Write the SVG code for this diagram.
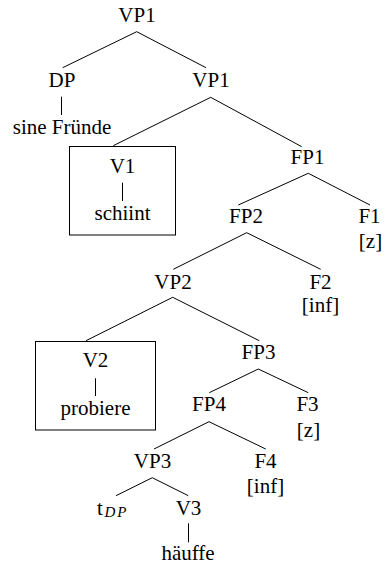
<svg xmlns="http://www.w3.org/2000/svg" width="386" height="566" viewBox="0 0 386 566">
<style>
.t text{font-size:21px;fill:#000;text-anchor:middle}
.t .sub{font-size:15px;font-style:italic;letter-spacing:2px;text-anchor:start}
.t .l{text-anchor:start}
.c line,.box{stroke:#000;stroke-width:1;fill:none}
</style>
<g id="connectors" class="c">
<line x1="136.7" y1="31.7" x2="62.7" y2="67.7"/>
<line x1="136.7" y1="31.7" x2="206" y2="67.7"/>
<line x1="61.5" y1="96.7" x2="61.5" y2="115"/>
<line x1="210.7" y1="97.3" x2="113.3" y2="145.7"/>
<line x1="210.7" y1="97.3" x2="301.7" y2="146.7"/>
<line x1="122.5" y1="182.7" x2="122.5" y2="201"/>
<line x1="308.3" y1="173.3" x2="238.3" y2="205"/>
<line x1="308.3" y1="173.3" x2="370" y2="205"/>
<line x1="246.7" y1="232.7" x2="173.3" y2="269.3"/>
<line x1="246.7" y1="232.7" x2="320.7" y2="269.3"/>
<line x1="172.7" y1="297.3" x2="86" y2="340.7"/>
<line x1="172.7" y1="297.3" x2="259.3" y2="340.7"/>
<line x1="95.5" y1="378.3" x2="95.5" y2="396"/>
<line x1="258.3" y1="369" x2="209.3" y2="392.7"/>
<line x1="258.3" y1="369" x2="308.3" y2="392.7"/>
<line x1="209" y1="421.7" x2="154" y2="449"/>
<line x1="209" y1="421.7" x2="265.7" y2="449"/>
<line x1="152.3" y1="477.7" x2="116" y2="495.7"/>
<line x1="152.3" y1="477.7" x2="188.3" y2="495.7"/>
<line x1="188.5" y1="523.3" x2="188.5" y2="542.3"/>
</g>
<g class="t" font-family="'Liberation Serif', 'Times New Roman', Times, 'DejaVu Serif', serif">
<g id="vp1-top"><text x="137" y="21.5">VP1</text></g>
<g id="dp"><text x="62" y="87">DP</text></g>
<g id="sine-frunde"><text x="62" y="133.5">sine Fründe</text></g>
<g id="vp1"><text x="211" y="87">VP1</text></g>
<g id="v1-box"><rect class="box" x="69.5" y="146.5" width="106" height="88.5"/></g>
<g id="v1"><text x="122.5" y="172.5">V1</text></g>
<g id="schiint"><text x="122.5" y="220">schiint</text></g>
<g id="fp1"><text x="307.5" y="164">FP1</text></g>
<g id="fp2"><text x="246" y="222.5">FP2</text></g>
<g id="f1"><text x="369.5" y="222.5">F1</text><text x="370.5" y="248">[z]</text></g>
<g id="vp2"><text x="173" y="288.5">VP2</text></g>
<g id="f2"><text x="320.5" y="288.5">F2</text><text x="320.5" y="312">[inf]</text></g>
<g id="fp3"><text x="258.5" y="358.5">FP3</text></g>
<g id="v2-box"><rect class="box" x="35.5" y="341.5" width="120" height="88.5"/></g>
<g id="v2"><text x="95.5" y="366.5">V2</text></g>
<g id="probiere"><text x="95.5" y="414.5">probiere</text></g>
<g id="fp4"><text x="209" y="411">FP4</text></g>
<g id="f3"><text x="307.5" y="411">F3</text><text x="308.5" y="436.5">[z]</text></g>
<g id="vp3"><text x="152.5" y="467.5">VP3</text></g>
<g id="f4"><text x="265.5" y="467.5">F4</text><text x="265.5" y="492.5">[inf]</text></g>
<g id="tdp"><text class="l" x="97" y="514.5">t</text><text class="sub" x="104.5" y="516.7">DP</text></g>
<g id="v3"><text x="188.5" y="514.5">V3</text></g>
<g id="hauffe"><text x="188" y="560">häuffe</text></g>
</g>
</svg>
